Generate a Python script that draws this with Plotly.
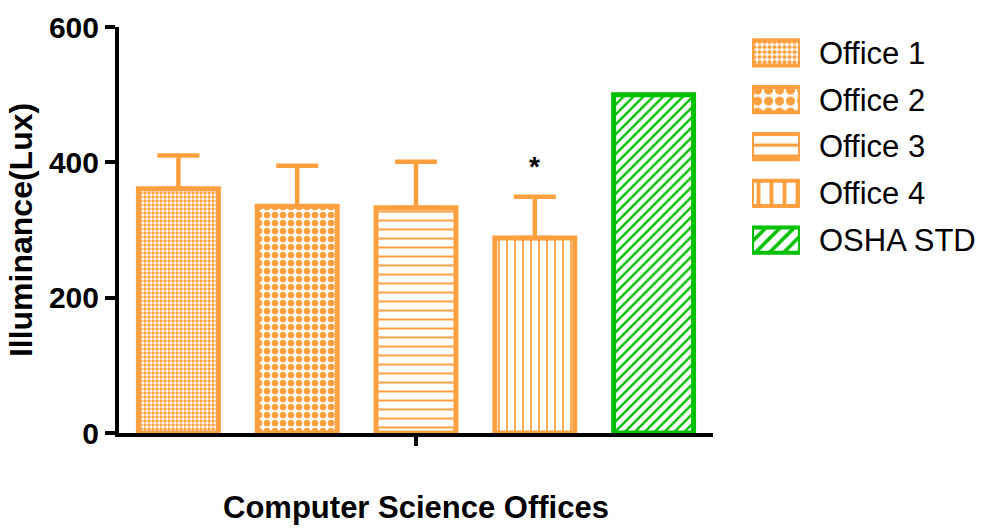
import plotly.graph_objects as go

# Mean illuminance per office with standard deviation (upper bar only)
offices = ["Office 1", "Office 2", "Office 3", "Office 4"]
illuminance = [361, 335, 333, 288]
std_dev = [49, 60, 68, 61]
standard_name = "OSHA STD"
standard_value = 500
y_ticks = [0, 200, 400, 600]

ORANGE = "#FFA040"
GREEN = "#00C000"
office_shapes = [".", ".", "-", "|"]
office_sizes = [4, 8, 9, 8]
office_solid = [0.55, 0.55, 0.22, 0.22]

legend_names = offices + [standard_name]
legend_colors = [ORANGE] * len(offices) + [GREEN]
legend_shapes = office_shapes + ["/"]
legend_sizes = [5, 11, 11, 13, 10]
legend_solid = [0.55, 0.55, 0.3, 0.3, 0.35]

fig = go.Figure()

# Office columns with upward error bars
fig.add_trace(go.Bar(
    x=offices,
    y=illuminance,
    marker=dict(
        color=ORANGE,
        line=dict(color=ORANGE, width=5),
        pattern=dict(
            shape=office_shapes,
            fgcolor=ORANGE,
            bgcolor="white",
            size=office_sizes,
            solidity=office_solid,
            fillmode="replace",
        ),
    ),
    error_y=dict(
        type="data",
        symmetric=False,
        array=std_dev,
        arrayminus=[0] * len(std_dev),
        color=ORANGE,
        thickness=4.5,
        width=21,
    ),
    showlegend=False,
    xaxis="x",
    yaxis="y",
))

# OSHA reference column
fig.add_trace(go.Bar(
    x=[standard_name],
    y=[standard_value],
    marker=dict(
        color=GREEN,
        line=dict(color=GREEN, width=5),
        pattern=dict(
            shape="/",
            fgcolor=GREEN,
            bgcolor="white",
            size=7,
            solidity=0.35,
            fillmode="replace",
        ),
    ),
    showlegend=False,
    xaxis="x",
    yaxis="y",
))

# Legend swatches drawn as a small horizontal bar panel
fig.add_trace(go.Bar(
    x=[1] * len(legend_names),
    y=legend_names,
    orientation="h",
    width=0.54,
    marker=dict(
        color=legend_colors,
        line=dict(color=legend_colors, width=4),
        pattern=dict(
            shape=legend_shapes,
            fgcolor=legend_colors,
            bgcolor="white",
            size=legend_sizes,
            solidity=legend_solid,
            fillmode="replace",
        ),
    ),
    showlegend=False,
    hoverinfo="skip",
    xaxis="x2",
    yaxis="y2",
))

# Significance marker above Office 4
fig.add_annotation(
    x=offices[3],
    y=illuminance[3] + std_dev[3],
    text="<b>*</b>",
    showarrow=False,
    yanchor="middle",
    yshift=30,
    font=dict(family="Liberation Sans", size=28, color="black"),
    xref="x",
    yref="y",
)

fig.update_layout(
    width=984,
    height=529,
    margin=dict(l=119, r=4, t=27, b=96, autoexpand=False),
    paper_bgcolor="white",
    plot_bgcolor="white",
    barmode="overlay",
    bargap=0.327,
    font=dict(family="Liberation Sans", color="black"),
    xaxis=dict(
        domain=[0, 0.6899],
        automargin=False,
        type="category",
        categoryorder="array",
        categoryarray=legend_names,
        range=[-0.5, 4.5],
        showline=True,
        linecolor="black",
        linewidth=4,
        ticks="outside",
        ticklen=9,
        tickwidth=4,
        tickcolor="black",
        tickmode="array",
        tickvals=[offices[2]],
        ticktext=[""],
        showgrid=False,
        zeroline=False,
        title=dict(
            text="<b>Computer Science Offices</b>",
            font=dict(family="Liberation Sans", size=31, color="black"),
            standoff=50,
        ),
    ),
    yaxis=dict(
        range=[0, 600],
        automargin=False,
        tickmode="array",
        tickvals=y_ticks,
        ticktext=[f"<b>{v}</b>" for v in y_ticks],
        tickfont=dict(family="Liberation Sans", size=30, color="black"),
        showline=True,
        linecolor="black",
        linewidth=4,
        ticks="outside",
        ticklen=10,
        tickwidth=4,
        tickcolor="black",
        showgrid=False,
        zeroline=False,
        title=dict(
            text="<b>Illuminance(Lux)</b>",
            font=dict(family="Liberation Sans", size=32, color="black"),
            standoff=8,
        ),
    ),
    xaxis2=dict(
        domain=[0.7352, 0.7909],
        anchor="y2",
        automargin=False,
        range=[0, 1],
        visible=False,
        fixedrange=True,
    ),
    yaxis2=dict(
        domain=[0.4177, 0.9936],
        anchor="x2",
        automargin=False,
        side="right",
        type="category",
        autorange="reversed",
        showline=False,
        showgrid=False,
        zeroline=False,
        ticks="",
        ticklabelstandoff=18,
        tickfont=dict(family="Liberation Sans", size=31, color="black"),
        fixedrange=True,
    ),
)

fig.write_html("out.html")
